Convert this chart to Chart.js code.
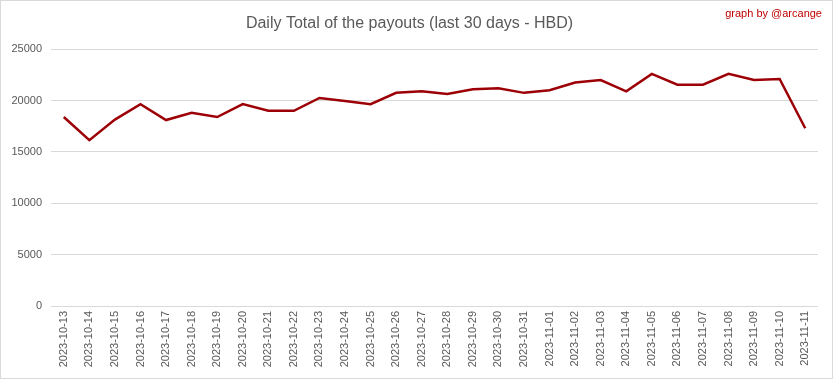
<!DOCTYPE html>
<html lang="en">
<head>
    <meta charset="UTF-8">
    <title>Daily Total of the payouts (last 30 days - HBD)</title>
    <script src="https://cdn.jsdelivr.net/npm/chart.js"></script>
    <style>
        body {
            margin: 0;
            background: #fff;
        }
        #frame {
            position: relative;
            width: 831px;
            height: 377px;
            border: 1px solid #d9d9d9;
        }
        #credit {
            position: absolute;
            top: 6px;
            right: 10px;
            font-family: "Liberation Sans", Arial, sans-serif;
            font-size: 11px;
            color: #c00000;
        }
    </style>
</head>
<body>
    <div id="frame">
        <canvas id="payoutChart" width="831" height="377"></canvas>
        <div id="credit">graph by @arcange</div>
    </div>

    <script>
        // dates on the x axis
        const days = [
            '2023-10-13', '2023-10-14', '2023-10-15', '2023-10-16', '2023-10-17',
            '2023-10-18', '2023-10-19', '2023-10-20', '2023-10-21', '2023-10-22',
            '2023-10-23', '2023-10-24', '2023-10-25', '2023-10-26', '2023-10-27',
            '2023-10-28', '2023-10-29', '2023-10-30', '2023-10-31', '2023-11-01',
            '2023-11-02', '2023-11-03', '2023-11-04', '2023-11-05', '2023-11-06',
            '2023-11-07', '2023-11-08', '2023-11-09', '2023-11-10', '2023-11-11'
        ];

        // daily payout totals (HBD)
        const payouts = [
            18400, 16150, 18150, 19650, 18100,
            18800, 18400, 19650, 19000, 19000,
            20250, 19950, 19650, 20750, 20900,
            20650, 21100, 21200, 20750, 21000,
            21750, 22000, 20900, 22600, 21550,
            21550, 22600, 22000, 22100, 17300
        ];

        const yTicks = [0, 5000, 10000, 15000, 20000, 25000];

        const textGrey = '#595959';
        const gridGrey = '#d9d9d9';

        const ctx = document.getElementById('payoutChart').getContext('2d');
        new Chart(ctx, {
            type: 'line',
            data: {
                labels: days,
                datasets: [{
                    label: 'HBD',
                    data: payouts,
                    borderColor: '#9c0006',
                    borderWidth: 2.5,
                    pointRadius: 0,
                    tension: 0,
                    fill: false
                }]
            },
            options: {
                responsive: false,
                animation: false,
                layout: {
                    padding: { left: 0, right: 14, top: 0, bottom: 0 }
                },
                plugins: {
                    legend: { display: false },
                    tooltip: { enabled: false },
                    title: {
                        display: true,
                        text: 'Daily Total of the payouts (last 30 days - HBD)',
                        color: textGrey,
                        font: { family: 'Liberation Sans', size: 16, weight: 'normal' },
                        padding: { top: 13, bottom: 16 }
                    }
                },
                scales: {
                    x: {
                        offset: true,
                        grid: { display: false, drawTicks: false },
                        border: { display: false },
                        afterFit: (scale) => { scale.height = 72; },
                        ticks: {
                            color: textGrey,
                            font: { family: 'Liberation Sans', size: 11 },
                            minRotation: 90,
                            maxRotation: 90,
                            autoSkip: false,
                            padding: 5
                        }
                    },
                    y: {
                        min: 0,
                        max: 25000,
                        afterBuildTicks: (scale) => {
                            scale.ticks = yTicks.map(v => ({ value: v }));
                        },
                        afterFit: (scale) => { scale.width = 50; },
                        grid: { color: gridGrey, drawTicks: false, lineWidth: 1 },
                        border: { display: false },
                        ticks: {
                            color: textGrey,
                            font: { family: 'Liberation Sans', size: 11 },
                            padding: 9,
                            callback: (v) => String(v)
                        }
                    }
                }
            }
        });
    </script>
</body>
</html>
